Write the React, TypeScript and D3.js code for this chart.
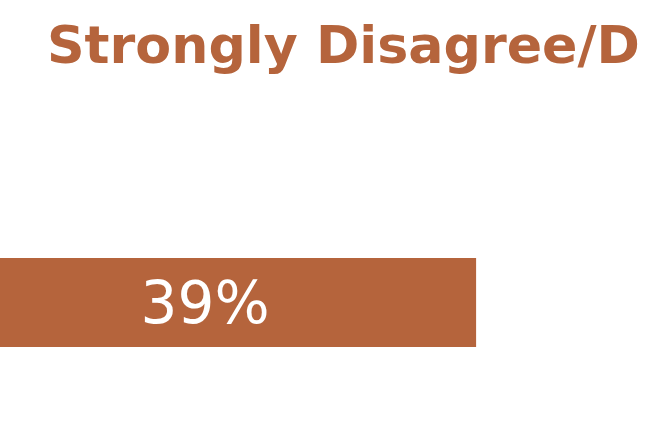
import React from 'react';
import { scaleLinear, scaleBand } from 'd3';

// the reference is a crop: the heading runs past the right edge and the bar starts off-screen
const titleVisible = 'Strongly Disagree/D';
const categories = ['Strongly Disagree/Disagree'];
const values = [39];

const W = 648;
const H = 432;
const COLOR = '#B5643C';

export default function App() {
    const x = scaleLinear().domain([0, 100]).range([-66, 1324]);
    const y = scaleBand().domain(categories).range([258, 347]);

    return (
        <svg width={W} height={H} style={{ position: 'absolute', left: 0, top: 0, background: '#fff' }}>
            <text
                x={47}
                y={63}
                fill={COLOR}
                fontFamily="DejaVu Sans Condensed, DejaVu Sans"
                fontWeight="bold"
                fontSize={52}
                textLength={593}
                lengthAdjust="spacingAndGlyphs"
            >
                {titleVisible}
            </text>
            {categories.map((c, i) => {
                const x0 = x(0);
                const x1 = x(values[i]);
                const yy = y(c) as number;
                return (
                    <g key={c}>
                        <rect x={x0} y={yy} width={x1 - x0} height={y.bandwidth()} fill={COLOR} />
                        <text
                            x={(x0 + x1) / 2}
                            y={yy + y.bandwidth() / 2}
                            dy="0.36em"
                            textAnchor="middle"
                            fill="#fff"
                            fontFamily="DejaVu Sans"
                            fontSize={58}
                        >
                            {values[i]}%
                        </text>
                    </g>
                );
            })}
        </svg>
    );
}
